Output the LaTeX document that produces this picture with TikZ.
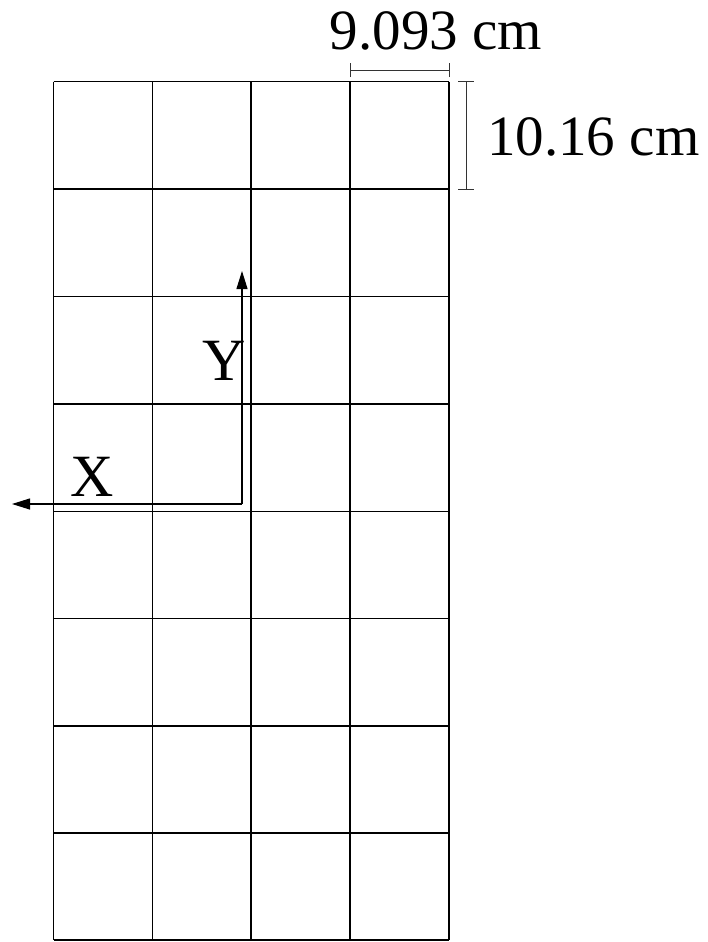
\documentclass[tikz,border=0pt]{standalone}
\usepackage{fontspec}
\setmainfont{Liberation Serif}
\usetikzlibrary{arrows.meta}
\tikzset{
  gridline/.style={line width=1.3pt, black},
  dimline/.style={line width=0.9pt, black!80},
  axisline/.style={line width=1.1pt, black, -{Triangle[length=18pt,width=11pt]}},
  dimlabel/.style={inner sep=0pt, anchor=base, font=\fontsize{57}{60}\selectfont},
  axislabel/.style={inner sep=0pt, anchor=base west, font=\fontsize{60}{64}\selectfont},
}
\begin{document}
\begin{tikzpicture}[x=1pt,y=-1pt]
\useasboundingbox (0,0) rectangle (708,942);
% grid
\foreach \gx in {53.5,152.5,251,350,449}
  \draw[gridline] (\gx,81.5) -- (\gx,940);
\foreach \gy in {81.5,189,296.5,404,511.5,618.5,726,833,940}
  \draw[gridline] (53.5,\gy) -- (449,\gy);
% dimension: horizontal
\coordinate (hA) at (350,70);
\coordinate (hB) at (449,70);
\draw[dimline] (hA) -- (hB);
\draw[dimline] ([yshift=-7pt]hA) -- ([yshift=7pt]hA);
\draw[dimline] ([yshift=-7pt]hB) -- ([yshift=7pt]hB);
\node[dimlabel] (wlab) at (436,50) {9.093 cm};
% dimension: vertical
\coordinate (vA) at (466,81.5);
\coordinate (vB) at (466,189);
\draw[dimline] (vA) -- (vB);
\draw[dimline] ([xshift=-8pt]vA) -- ([xshift=8pt]vA);
\draw[dimline] ([xshift=-8pt]vB) -- ([xshift=8pt]vB);
\node[dimlabel, anchor=base west] (hlab) at (487,155) {10.16 cm};
% axes
\coordinate (O) at (242,504);
\coordinate (xend) at (12,504);
\coordinate (yend) at (242,271);
\draw[axisline] (O) -- (xend);
\draw[axisline] (O) -- (yend);
\node[axislabel] (xl) at (70,496) {X};
\node[axislabel] (yl) at (202,380) {Y};
\end{tikzpicture}
\end{document}
